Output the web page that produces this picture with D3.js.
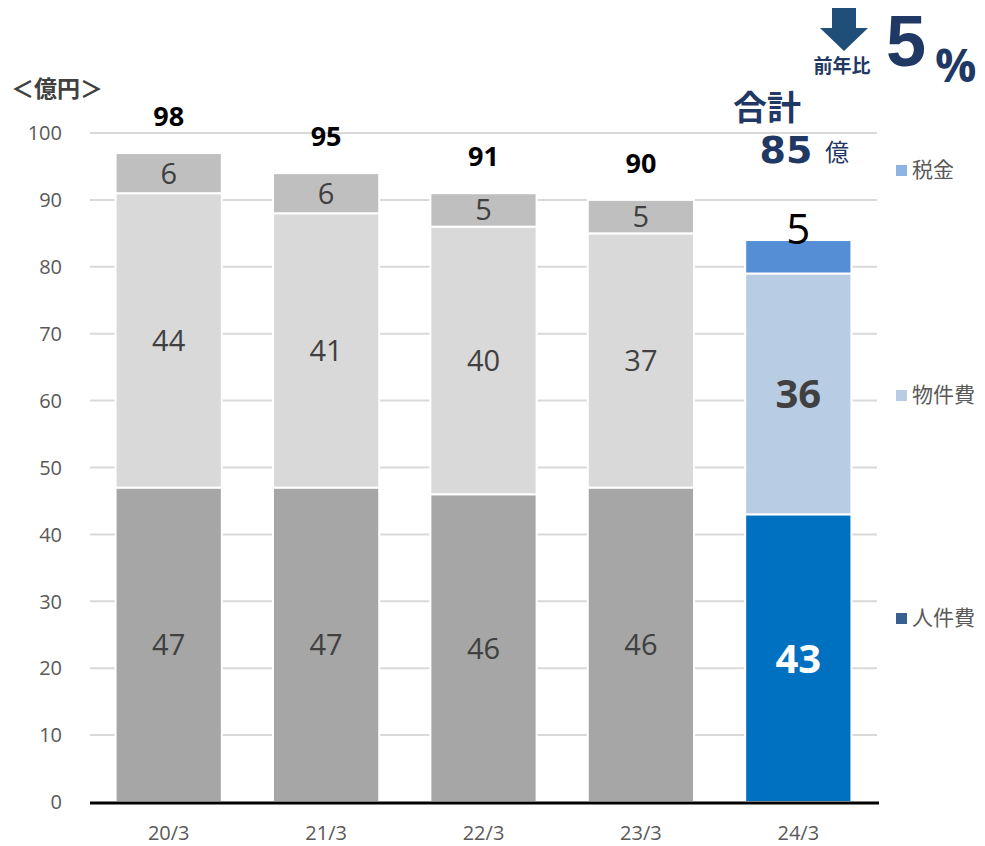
<!DOCTYPE html>
<html>
<head>
<meta charset="utf-8">
<script src="https://cdn.jsdelivr.net/npm/d3@7"></script>
<style>
  body { margin: 0; background: #fff; }
  text { font-family: "Open Sans", "Noto Sans CJK JP", sans-serif; }
</style>
</head>
<body>
<div id="chart"></div>
<script>
const categories = ['20/3', '21/3', '22/3', '23/3', '24/3'];
const personnel = [47, 47, 46, 47, 43];
const goods = [44, 41, 40, 38, 36];
const tax = [6, 6, 5, 5, 5];
const personnelLabels = [47, 47, 46, 46, 43];
const goodsLabels = [44, 41, 40, 37, 36];
const taxLabels = [6, 6, 5, 5, 5];
const totals = [98, 95, 91, 90, 85];
const yTicks = [0, 10, 20, 30, 40, 50, 60, 70, 80, 90, 100];
const legendItems = ['税金', '物件費', '人件費'];

const width = 985;
const height = 846;
const margin = { top: 133, right: 108, bottom: 44, left: 90 };

const grayColors = { personnel: '#a6a6a6', goods: '#d9d9d9', tax: '#bfbfbf' };
const blueColors = { personnel: '#0070c0', goods: '#b8cce4', tax: '#558ed5' };
const legendColors = ['#8db4e2', '#b8cce4', '#366092'];
const navy = '#1f3864';

const svg = d3.select('#chart')
  .append('svg')
    .attr('width', width)
    .attr('height', height);

const x = d3.scaleBand()
    .domain(categories)
    .range([margin.left, width - margin.right])
    .paddingInner(0.325)
    .paddingOuter(0.1625);

const y = d3.scaleLinear()
    .domain([0, 100])
    .range([height - margin.bottom, margin.top]);

// gridlines
svg.append('g')
  .selectAll('line')
  .data(yTicks.slice(1))
  .enter()
  .append('line')
    .attr('x1', margin.left)
    .attr('x2', width - margin.right)
    .attr('y1', d => y(d))
    .attr('y2', d => y(d))
    .attr('stroke', '#d9d9d9')
    .attr('stroke-width', 2);

// y tick labels
svg.append('g')
  .selectAll('text')
  .data(yTicks)
  .enter()
  .append('text')
    .attr('x', 62)
    .attr('y', d => y(d))
    .attr('dy', '0.36em')
    .attr('text-anchor', 'end')
    .attr('font-size', 20)
    .attr('fill', '#595959')
    .text(d => d);

// stacked bars
const rows = categories.map((c, i) => ({
  cat: c, i,
  personnel: personnel[i], goods: goods[i], tax: tax[i]
}));
const keys = ['personnel', 'goods', 'tax'];
const stack = d3.stack().keys(keys)(rows);

const barG = svg.append('g');
stack.forEach(layer => {
  barG.selectAll(null)
    .data(layer)
    .enter()
    .append('rect')
      .attr('x', d => x(d.data.cat))
      .attr('width', x.bandwidth())
      .attr('y', d => y(d[1]))
      .attr('height', d => y(d[0]) - y(d[1]))
      .attr('fill', d => (d.data.i === 4 ? blueColors : grayColors)[layer.key])
      .attr('stroke', '#fff')
      .attr('stroke-width', 2);
});

// x axis baseline
svg.append('line')
    .attr('x1', margin.left)
    .attr('x2', width - margin.right + 2)
    .attr('y1', y(0) + 1)
    .attr('y2', y(0) + 1)
    .attr('stroke', '#000')
    .attr('stroke-width', 3);

svg.append('g')
  .selectAll('text')
  .data(categories)
  .enter()
  .append('text')
    .attr('x', d => x(d) + x.bandwidth() / 2)
    .attr('y', 840)
    .attr('text-anchor', 'middle')
    .attr('font-size', 20)
    .attr('fill', '#595959')
    .text(d => d);

// segment labels
const labelSets = { personnel: personnelLabels, goods: goodsLabels, tax: taxLabels };
stack.forEach(layer => {
  barG.selectAll(null)
    .data(layer)
    .enter()
    .append('text')
      .attr('x', d => x(d.data.cat) + x.bandwidth() / 2)
      .attr('y', d => {
        if (d.data.i === 4 && layer.key === 'tax') return y(d[1]) - 11;
        return (y(d[0]) + y(d[1])) / 2;
      })
      .attr('dy', '0.36em')
      .attr('text-anchor', 'middle')
      .attr('font-size', d => {
        if (d.data.i !== 4) return 29;
        return layer.key === 'tax' ? 42 : 40;
      })
      .attr('font-weight', d => (d.data.i === 4 && layer.key !== 'tax') ? 'bold' : 'normal')
      .attr('fill', d => {
        if (d.data.i !== 4) return '#404040';
        if (layer.key === 'personnel') return '#fff';
        if (layer.key === 'goods') return '#404040';
        return '#000';
      })
      .text(d => labelSets[layer.key][d.data.i]);
});

// totals
svg.append('g')
  .selectAll('text')
  .data(rows.slice(0, 4))
  .enter()
  .append('text')
    .attr('x', d => x(d.cat) + x.bandwidth() / 2)
    .attr('y', d => y(d.personnel + d.goods + d.tax) - 27)
    .attr('text-anchor', 'middle')
    .attr('font-size', 27)
    .attr('font-weight', 'bold')
    .attr('fill', '#000')
    .text(d => totals[d.i]);

// unit label
svg.append('text')
    .attr('x', 11)
    .attr('y', 97)
    .attr('font-size', 23)
    .attr('font-weight', 'bold')
    .attr('fill', '#404040')
    .text('＜億円＞');

// total callout for 24/3
svg.append('text')
    .attr('x', 767)
    .attr('y', 120)
    .attr('text-anchor', 'middle')
    .attr('font-size', 34)
    .attr('font-weight', 'bold')
    .attr('fill', navy)
    .text('合計');
svg.append('text')
    .attr('x', 786)
    .attr('y', 163)
    .attr('text-anchor', 'middle')
    .attr('font-size', 38)
    .attr('font-weight', 'bold')
    .attr('fill', navy)
    .style('font-family', '"DejaVu Sans", sans-serif')
    .text(totals[4]);
svg.append('text')
    .attr('x', 825)
    .attr('y', 161)
    .attr('font-size', 24)
    .attr('fill', navy)
    .text('億');

// year-over-year badge
svg.append('path')
    .attr('d', 'M832,8 H856 V28 H868 L844,51 L820,28 H832 Z')
    .attr('fill', '#1f4e79');
svg.append('text')
    .attr('x', 842)
    .attr('y', 73)
    .attr('text-anchor', 'middle')
    .attr('font-size', 19)
    .attr('font-weight', 'bold')
    .attr('fill', navy)
    .text('前年比');
svg.append('text')
    .attr('x', 886)
    .attr('y', 66)
    .attr('font-size', 72)
    .attr('font-weight', 'bold')
    .attr('fill', navy)
    .style('font-family', '"Liberation Sans", Arial, sans-serif')
    .text('5');
svg.append('text')
    .attr('x', 935)
    .attr('y', 82)
    .attr('font-size', 46)
    .attr('font-weight', 'bold')
    .attr('fill', navy)
    .text('%');

// legend
const legendY = [170, 395, 618];
const legend = svg.append('g')
  .selectAll('g')
  .data(legendItems)
  .enter()
  .append('g')
    .attr('transform', (d, i) => `translate(896, ${legendY[i]})`);
legend.append('rect')
    .attr('x', 0)
    .attr('y', -5)
    .attr('width', 11)
    .attr('height', 11)
    .attr('fill', (d, i) => legendColors[i]);
legend.append('text')
    .attr('x', 16)
    .attr('dy', '0.35em')
    .attr('font-size', 21)
    .attr('fill', '#595959')
    .text(d => d);
</script>
</body>
</html>
